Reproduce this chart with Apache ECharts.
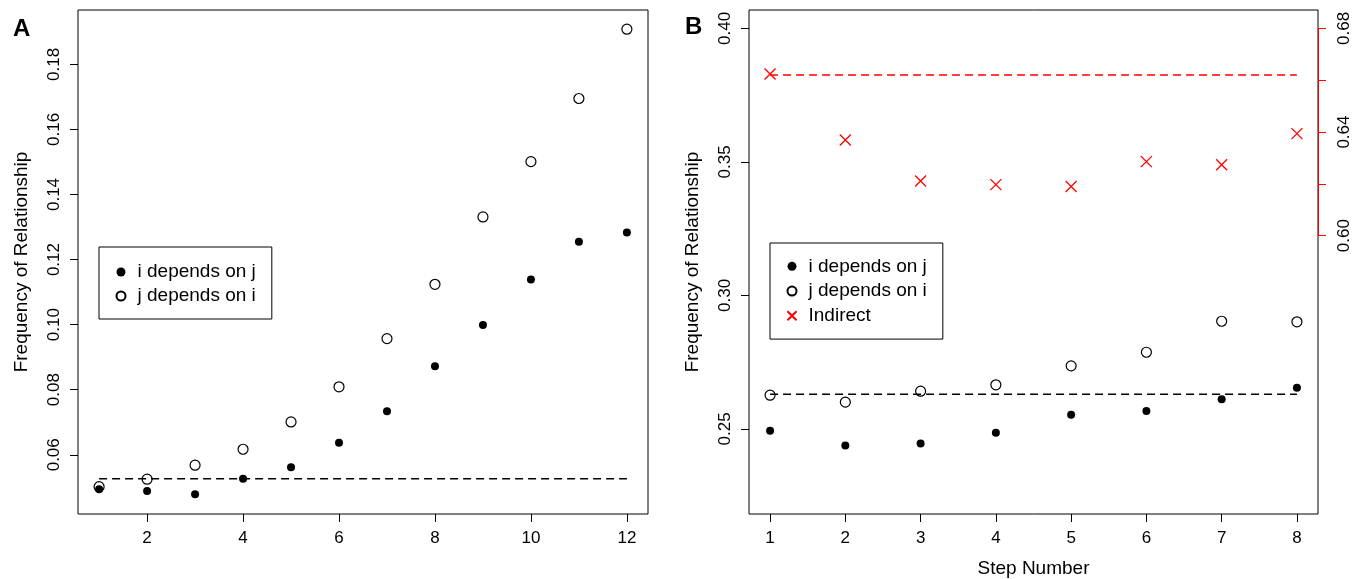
<!DOCTYPE html>
<html>
<head>
<meta charset="utf-8">
<script src="https://cdn.jsdelivr.net/npm/echarts@6/dist/echarts.min.js"></script>
<style>
  html, body { margin: 0; padding: 0; background: #fff; }
  #main { width: 1363px; height: 579px; }
</style>
</head>
<body>
<div id="main"></div>
<script>
// panel A
const stepsA = [1, 2, 3, 4, 5, 6, 7, 8, 9, 10, 11, 12];
const iOnJ_A = [0.0494, 0.0489, 0.0479, 0.0526, 0.0562, 0.0637, 0.0734, 0.0872, 0.0999, 0.1139, 0.1255, 0.1283];
const jOnI_A = [0.0502, 0.0525, 0.0568, 0.0617, 0.0701, 0.0809, 0.0957, 0.1124, 0.1331, 0.1501, 0.1695, 0.1908];
const baseA = 0.0526;
const xTicksA = [2, 4, 6, 8, 10, 12];
const yTicksA = [0.06, 0.08, 0.10, 0.12, 0.14, 0.16, 0.18];

// panel B
const stepsB = [1, 2, 3, 4, 5, 6, 7, 8];
const iOnJ_B = [0.2493, 0.2438, 0.2445, 0.2485, 0.2553, 0.2567, 0.2611, 0.2654];
const jOnI_B = [0.2626, 0.2600, 0.2641, 0.2665, 0.2736, 0.2787, 0.2903, 0.2901];
const indirectB = [0.6624, 0.6369, 0.6211, 0.6197, 0.6190, 0.6286, 0.6274, 0.6394];
const baseB = 0.2630;
const baseIndirectB = 0.6620;
const xTicksB = [1, 2, 3, 4, 5, 6, 7, 8];
const yTicksB = [0.25, 0.30, 0.35, 0.40];
const rTicksB = [0.60, 0.62, 0.64, 0.66, 0.68];
const rLabelsB = [0.60, 0.64, 0.68];

const names = ['i depends on j', 'j depends on i', 'Indirect'];
const FONT = '"Liberation Sans", Arial, Helvetica, sans-serif';
const crossPath = 'path://M0,0L10,10M0,10L10,0';

const pairs = (xs, ys) => xs.map((x, i) => [x, ys[i]]);
const flat = (xs, v) => [[xs[0], v], [xs[xs.length - 1], v]];

function xAxisOf(grid, min, max, ticks, name) {
    return {
        type: 'value', gridIndex: grid, min: min, max: max,
        axisLine: {show: false},
        splitLine: {show: false},
        axisTick: {show: true, length: 8, customValues: ticks, lineStyle: {color: '#000'}},
        axisLabel: {customValues: ticks, fontSize: 17, color: '#000', margin: 16, fontFamily: FONT},
        name: name || '', nameLocation: 'middle', nameGap: 45, nameMoveOverlap: false,
        nameTextStyle: {fontSize: 19, color: '#000', fontFamily: FONT}
    };
}

function yAxisOf(grid, min, max, ticks, labels, opts) {
    return Object.assign({
        type: 'value', gridIndex: grid, min: min, max: max,
        axisLine: {show: false},
        splitLine: {show: false},
        axisTick: {show: true, length: 8, customValues: ticks, lineStyle: {color: '#000'}},
        axisLabel: {
            customValues: labels, rotate: 90, fontSize: 17, color: '#000', margin: 15,
            fontFamily: FONT, formatter: v => v.toFixed(2)
        },
        nameLocation: 'middle', nameGap: 47, nameMoveOverlap: false,
        nameTextStyle: {fontSize: 19, color: '#000', fontFamily: FONT}
    }, opts || {});
}

const filledDot = {symbol: 'circle', symbolSize: 8, itemStyle: {color: '#000', opacity: 1}};
const openDot = {symbol: 'circle', symbolSize: 10, itemStyle: {color: 'none', borderColor: '#000', borderWidth: 1.2, opacity: 1}};
const dashed = (color) => ({type: 'line', symbol: 'none', silent: true, lineStyle: {color: color, width: 1.5, type: [8, 5]}});

const legendText = (lh, pad) => ({fontSize: 19, color: '#000', lineHeight: lh, padding: [0, 0, 0, pad], fontFamily: FONT});

const chart = echarts.init(document.getElementById('main'));
chart.setOption({
    animation: false,
    backgroundColor: '#fff',
    textStyle: {fontFamily: FONT},
    title: [
        {text: 'A', left: 8, top: 12, textStyle: {fontSize: 24, fontWeight: 'bold', color: '#000', fontFamily: FONT}},
        {text: 'B', left: 680, top: 10, textStyle: {fontSize: 24, fontWeight: 'bold', color: '#000', fontFamily: FONT}}
    ],
    grid: [
        {left: 78, top: 10, width: 570, height: 504, show: true, borderColor: '#000', borderWidth: 1, outerBoundsMode: 'none', containLabel: false},
        {left: 749, top: 10, width: 569, height: 504, show: true, borderColor: '#000', borderWidth: 1, outerBoundsMode: 'none', containLabel: false}
    ],
    xAxis: [
        xAxisOf(0, 0.56, 12.44, xTicksA),
        xAxisOf(1, 0.72, 8.28, xTicksB, 'Step Number')
    ],
    yAxis: [
        yAxisOf(0, 0.0418, 0.1967, yTicksA, yTicksA, {name: 'Frequency of Relationship'}),
        yAxisOf(1, 0.2181, 0.4069, yTicksB, yTicksB, {name: 'Frequency of Relationship'}),
        yAxisOf(1, 0.4926, 0.6871, rTicksB, rLabelsB, {
            position: 'right',
            axisTick: {show: true, length: 8, customValues: rTicksB, lineStyle: {color: '#ff0000'}},
            axisLabel: {
                customValues: rLabelsB, rotate: 90, fontSize: 17, color: '#000', margin: 18,
                fontFamily: FONT, formatter: v => v.toFixed(2)
            }
        })
    ],
    legend: [
        {
            data: [names[0], names[1]],
            orient: 'vertical', left: 99, top: 247,
            padding: [13, 16, 11, 15], itemGap: 0, itemWidth: 9, itemHeight: 9,
            borderColor: '#000', borderWidth: 1, borderRadius: 0,
            textStyle: legendText(24, 7),
            selectedMode: false
        },
        {
            data: names,
            orient: 'vertical', left: 770, top: 243,
            padding: [11, 16, 11, 15], itemGap: 0, itemWidth: 9, itemHeight: 9,
            borderColor: '#000', borderWidth: 1, borderRadius: 0,
            textStyle: legendText(24.7, 7),
            selectedMode: false
        }
    ],
    series: [
        Object.assign(dashed('#000'), {name: 'baseA', xAxisIndex: 0, yAxisIndex: 0, data: flat(stepsA, baseA)}),
        Object.assign({type: 'scatter', name: names[1], xAxisIndex: 0, yAxisIndex: 0, data: pairs(stepsA, jOnI_A)}, openDot),
        Object.assign({type: 'scatter', name: names[0], xAxisIndex: 0, yAxisIndex: 0, data: pairs(stepsA, iOnJ_A)}, filledDot),

        Object.assign(dashed('#000'), {name: 'baseB', xAxisIndex: 1, yAxisIndex: 1, data: flat(stepsB, baseB)}),
        Object.assign(dashed('#ff0000'), {
            name: 'baseIndirectB', xAxisIndex: 1, yAxisIndex: 2, data: flat(stepsB, baseIndirectB),
            markLine: {
                silent: true, symbol: 'none', label: {show: false},
                lineStyle: {color: '#ff0000', type: 'solid', width: 1},
                data: [[{coord: [8.28, rTicksB[0]]}, {coord: [8.28, rTicksB[rTicksB.length - 1]]}]]
            }
        }),
        Object.assign({type: 'scatter', name: names[1], xAxisIndex: 1, yAxisIndex: 1, data: pairs(stepsB, jOnI_B)}, openDot),
        Object.assign({type: 'scatter', name: names[0], xAxisIndex: 1, yAxisIndex: 1, data: pairs(stepsB, iOnJ_B)}, filledDot),
        {
            type: 'scatter', name: names[2], xAxisIndex: 1, yAxisIndex: 2,
            symbol: crossPath, symbolSize: 11,
            itemStyle: {color: '#ff0000', borderColor: '#ff0000', borderWidth: 1.3, opacity: 1},
            data: pairs(stepsB, indirectB)
        }
    ]
});
</script>
</body>
</html>
